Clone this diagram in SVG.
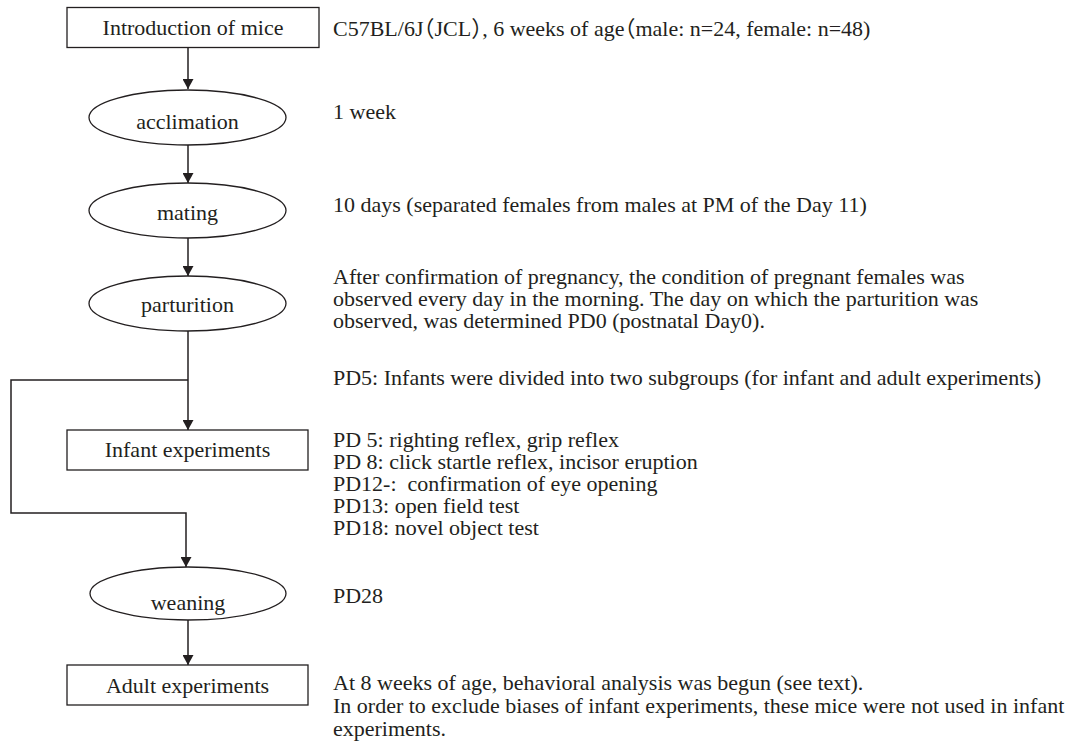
<svg xmlns="http://www.w3.org/2000/svg" width="1074" height="749" viewBox="0 0 1074 749">
<defs>
<marker id="arr" markerUnits="userSpaceOnUse" markerWidth="11" markerHeight="11" refX="10" refY="5.5" orient="auto">
<path d="M0,0 L10,5.5 L0,11 z" fill="#231f20"/>
</marker>
<style>
.n{fill:#fff;stroke:#231f20;stroke-width:1.3}
.c{fill:none;stroke:#231f20;stroke-width:1.5}
text{font-family:"Liberation Serif","Times New Roman","Noto Sans CJK JP",serif;font-size:22px;fill:#231f20}
.m{text-anchor:middle}
.p{white-space:pre}
.h{font-feature-settings:"halt"}
</style>
</defs>
<rect width="1074" height="749" fill="#fff"/>
<g id="connectors">
<path class="c" d="M188,48 V89" marker-end="url(#arr)"/>
<path class="c" d="M188,145 V183" marker-end="url(#arr)"/>
<path class="c" d="M188,238 V276" marker-end="url(#arr)"/>
<path class="c" d="M188,331 V430" marker-end="url(#arr)"/>
<path class="c" d="M188,380 H11 V513 H186 V567" marker-end="url(#arr)"/>
<path class="c" d="M188,620 V665" marker-end="url(#arr)"/>
</g>
<g id="intro">
<rect class="n" x="67" y="7.5" width="252" height="40"/>
<text class="m" x="193" y="35">Introduction of mice</text>
</g>
<g id="acclimation">
<ellipse class="n" cx="187.5" cy="117.5" rx="98.5" ry="27.5"/>
<text class="m" x="187.5" y="129">acclimation</text>
</g>
<g id="mating">
<ellipse class="n" cx="187.5" cy="210.5" rx="98.5" ry="27.5"/>
<text class="m" x="187.5" y="220">mating</text>
</g>
<g id="parturition">
<ellipse class="n" cx="187.5" cy="303.5" rx="98.5" ry="27.5"/>
<text class="m" x="187.5" y="312">parturition</text>
</g>
<g id="infant">
<rect class="n" x="67" y="430" width="241" height="40"/>
<text class="m" x="187.5" y="457">Infant experiments</text>
</g>
<g id="weaning">
<ellipse class="n" cx="188" cy="593.5" rx="98" ry="26.5"/>
<text class="m" x="188" y="610">weaning</text>
</g>
<g id="adult">
<rect class="n" x="67" y="665" width="241" height="40"/>
<text class="m" x="187.5" y="693">Adult experiments</text>
</g>
<g id="notes">
<text class="h" x="333" y="36">C57BL/6J（JCL）, 6 weeks of age（male: n=24, female: n=48)</text>
<text x="333" y="119">1 week</text>
<text x="333" y="212">10 days (separated females from males at PM of the Day 11)</text>
<text x="333" y="284">After confirmation of pregnancy, the condition of pregnant females was</text>
<text x="333" y="306">observed every day in the morning. The day on which the parturition was</text>
<text x="333" y="328">observed, was determined PD0 (postnatal Day0).</text>
<text x="333" y="385">PD5: Infants were divided into two subgroups (for infant and adult experiments)</text>
<text x="333" y="447">PD 5: righting reflex, grip reflex</text>
<text x="333" y="469">PD 8: click startle reflex, incisor eruption</text>
<text class="p" x="333" y="491">PD12-:  confirmation of eye opening</text>
<text x="333" y="513">PD13: open field test</text>
<text x="333" y="535">PD18: novel object test</text>
<text x="333" y="603">PD28</text>
<text x="333" y="690">At 8 weeks of age, behavioral analysis was begun (see text).</text>
<text x="333" y="713">In order to exclude biases of infant experiments, these mice were not used in infant</text>
<text x="333" y="736">experiments.</text>
</g>
</svg>
